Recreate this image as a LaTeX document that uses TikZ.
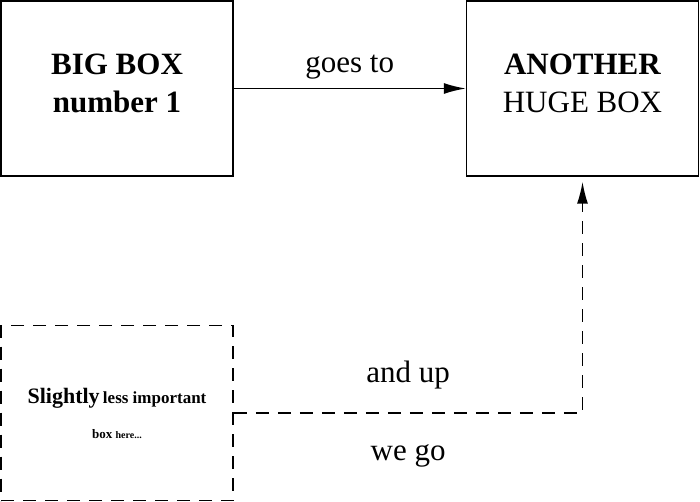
\documentclass[tikz,border=0pt]{standalone}
\usepackage{fontspec}
\setmainfont{Liberation Serif}
\usetikzlibrary{arrows.meta}
\tikzset{
  box/.style={draw, line width=1.5pt, minimum width=232pt, minimum height=175pt, inner sep=0pt},
  dbox/.style={box, dash pattern=on 13pt off 9pt, align=center},
  bigtxt/.style={align=center, inner sep=0pt, font=\fontsize{31}{38}\selectfont},
  lbl/.style={inner sep=0pt, anchor=base, font=\fontsize{31}{38}\selectfont},
  conn/.style={line width=1.5pt, -{Latex[length=22pt,width=11pt]}},
}
\begin{document}
\begin{tikzpicture}[x=1pt,y=-1pt]
\useasboundingbox (0,0) rectangle (700,502);
\node[box] (b1) at (117,88.5) {};
\node[box] (b2) at (582.5,88.5) {};
\node[dbox, font=\bfseries\fontsize{13}{35}\selectfont] (b3) at (117,413)
  {{\fontsize{22}{35}\selectfont Slightly} {\fontsize{17}{35}\selectfont less important}\\
   box {\fontsize{10}{35}\selectfont here...}};
\node[bigtxt, font=\bfseries\fontsize{31}{38}\selectfont] (t1) at (117,83.5) {BIG BOX\\number 1};
\node[bigtxt] (t2) at (582.5,83.5) {\textbf{ANOTHER}\\HUGE BOX};
\draw[conn] (b1.east) -- node[lbl, yshift=16pt] (l1) {goes to} (b2.west);
\draw[conn, dash pattern=on 13pt off 9pt, shorten >=5pt] (b3.east) -| 
  node[lbl, pos=0.25, yshift=31pt] (l2) {and up}
  node[lbl, pos=0.25, yshift=-47pt] (l3) {we go} (b2.south);
\end{tikzpicture}
\end{document}
